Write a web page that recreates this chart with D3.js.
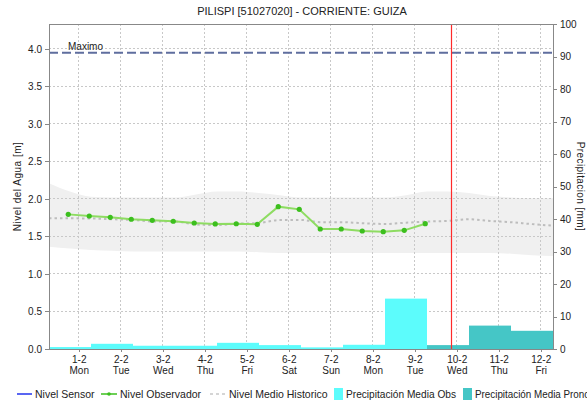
<!DOCTYPE html>
<html>
<head>
<meta charset="utf-8">
<title>PILISPI - GUIZA</title>
<script src="https://cdn.jsdelivr.net/npm/d3@7"></script>
<style>
  body { margin: 0; background: #fff; }
  svg { font-family: "Liberation Sans", Arial, sans-serif; }
  .axis path, .axis line { stroke: #888; shape-rendering: crispEdges; }
  .axis text { font-size: 10px; fill: #222; }
  .grid line { stroke: #c8c8c8; stroke-dasharray: 2,2; shape-rendering: crispEdges; }
  .legend text { font-size: 10.5px; fill: #222; }
</style>
</head>
<body>
<script>
// datos
var titulo = "PILISPI [51027020] - CORRIENTE: GUIZA";
var dias = ["2021-02-01","2021-02-02","2021-02-03","2021-02-04","2021-02-05","2021-02-06",
            "2021-02-07","2021-02-08","2021-02-09","2021-02-10","2021-02-11","2021-02-12"];
var diasSemana = ["Mon","Tue","Wed","Thu","Fri","Sat","Sun","Mon","Tue","Wed","Thu","Fri"];
var precipObs = [0.6, 1.6, 1.0, 1.0, 1.9, 1.2, 0.5, 1.3, 15.5, null, null, null];
var precipPro = [null, null, null, null, null, null, null, null, null, 1.2, 7.2, 5.6];
var nivelObservador = [1.795, 1.773, 1.756, 1.73, 1.716, 1.703, 1.68, 1.667, 1.67,
                       1.662, 1.898, 1.862, 1.6, 1.6, 1.573, 1.564, 1.582, 1.671];
var nivelSensor = [];
var histMedio = [1.742, 1.742, 1.74, 1.73, 1.72, 1.70, 1.70, 1.66, 1.653, 1.67, 1.68, 1.72, 1.72,
                 1.69, 1.69, 1.676, 1.667, 1.684, 1.70, 1.707, 1.73, 1.707, 1.69, 1.665, 1.644];
var histMax = [2.21, 2.10, 2.03, 2.02, 2.02, 2.02, 2.02, 2.06, 2.10, 2.10, 2.08, 2.05, 2.02,
               2.02, 2.02, 2.02, 2.02, 2.05, 2.10, 2.10, 2.08, 2.04, 2.02, 2.01, 2.01];
var histMin = [1.364, 1.34, 1.32, 1.31, 1.30, 1.30, 1.30, 1.30, 1.30, 1.30, 1.29, 1.28, 1.28,
               1.28, 1.28, 1.28, 1.28, 1.28, 1.28, 1.28, 1.28, 1.28, 1.27, 1.25, 1.24];
var nivelMaximo = 3.95;
var ahora = "2021-02-09 21:00";
var inicio = "2021-01-31 07:00", fin = "2021-02-12 07:00";
var primeraObs = "2021-01-31 18:00";

var width = 587, height = 402;
var padding = {left: 49, right: 34, top: 24, bottom: 53};
var w = width - padding.left - padding.right;
var h = height - padding.top - padding.bottom;

var parseDia = d3.timeParse("%Y-%m-%d");
var parseHora = d3.timeParse("%Y-%m-%d %H:%M");

var x = d3.scaleTime().domain([parseHora(inicio), parseHora(fin)]).range([0, w]);
var y = d3.scaleLinear().domain([0, 4.3333]).range([h, 0]);
var y2 = d3.scaleLinear().domain([0, 100]).range([h, 0]);

// tiempos cada 12 horas
var tObs = nivelObservador.map(function(d, i){ return d3.timeHour.offset(parseHora(primeraObs), 12 * i); });
var tHist = histMedio.map(function(d, i){ return d3.timeHour.offset(parseHora(inicio), 12 * i); });
var tDias = dias.map(parseDia);

var svg = d3.select("body").append("svg").attr("width", width).attr("height", height);

svg.append("text").attr("x", 302).attr("y", 15).attr("text-anchor", "middle")
  .style("font-size", "11px").attr("fill", "#222").text(titulo);

var g = svg.append("g").attr("transform", "translate(" + padding.left + "," + padding.top + ")");

g.append("clipPath").attr("id", "clip").append("rect").attr("width", w).attr("height", h);

// banda historica
var banda = d3.area()
  .x(function(d, i){ return x(tHist[i]); })
  .y0(function(d, i){ return y(histMin[i]); })
  .y1(function(d, i){ return y(histMax[i]); })
  .curve(d3.curveMonotoneX);
g.append("path").datum(histMedio).attr("d", banda).attr("fill", "#f0f0f0");

// rejilla
g.append("g").attr("class", "grid")
  .selectAll("line").data(y.ticks(9).filter(function(d){ return d > 0; })).enter().append("line")
  .attr("x1", 0).attr("x2", w).attr("y1", function(d){ return y(d); }).attr("y2", function(d){ return y(d); });
g.append("g").attr("class", "grid")
  .selectAll("line").data(tDias).enter().append("line")
  .attr("x1", function(d){ return x(d); }).attr("x2", function(d){ return x(d); })
  .attr("y1", 0).attr("y2", h);

// barras de precipitacion
function barras(valores, color) {
  g.append("g").attr("clip-path", "url(#clip)")
    .selectAll("rect").data(valores.map(function(v, i){ return {v: v, t: tDias[i]}; })
      .filter(function(d){ return d.v != null; }))
    .enter().append("rect")
    .attr("x", function(d){ return x(d3.timeHour.offset(d.t, -17)); })
    .attr("width", function(d){ return x(d3.timeHour.offset(d.t, 7)) - x(d3.timeHour.offset(d.t, -17)); })
    .attr("y", function(d){ return y2(d.v); })
    .attr("height", function(d){ return h - y2(d.v); })
    .attr("fill", color);
}
barras(precipObs, "#5cfcfc");
barras(precipPro, "#45c6c6");

// medio historico
var lineaHist = d3.line()
  .x(function(d, i){ return x(tHist[i]); })
  .y(function(d){ return y(d); })
  .curve(d3.curveMonotoneX);
g.append("path").datum(histMedio).attr("d", lineaHist)
  .attr("fill", "none").attr("stroke", "#bdbdbd").attr("stroke-width", 2).attr("stroke-dasharray", "2.5,3");

// nivel observador
var lineaObs = d3.line()
  .x(function(d, i){ return x(tObs[i]); })
  .y(function(d){ return y(d); });
g.append("path").datum(nivelObservador).attr("d", lineaObs)
  .attr("fill", "none").attr("stroke", "#8edc62").attr("stroke-width", 2);
g.selectAll(".pto").data(nivelObservador).enter().append("circle").attr("class", "pto")
  .attr("cx", function(d, i){ return x(tObs[i]); })
  .attr("cy", function(d){ return y(d); })
  .attr("r", 2.6).attr("fill", "#3cbf1e");

// nivel maximo
g.append("line").attr("x1", 0).attr("x2", w)
  .attr("y1", y(nivelMaximo)).attr("y2", y(nivelMaximo))
  .attr("stroke", "#5f6e9e").attr("stroke-width", 2).attr("stroke-dasharray", "9,4");
g.append("text").attr("x", 19).attr("y", y(nivelMaximo) - 3)
  .style("font-size", "10px").attr("fill", "#222").text("Maximo");

// ahora
g.append("line").attr("x1", x(parseHora(ahora))).attr("x2", x(parseHora(ahora)))
  .attr("y1", 0).attr("y2", h).attr("stroke", "#ff2a2a").attr("stroke-width", 1.2);

// ejes
g.append("g").attr("class", "axis")
  .call(d3.axisLeft(y).tickValues(d3.range(0, 4.01, 0.5)).tickFormat(d3.format(".1f")).tickSize(4).tickSizeOuter(0));
g.append("g").attr("class", "axis").attr("transform", "translate(" + w + ",0)")
  .call(d3.axisRight(y2).tickValues(d3.range(0, 101, 10)).tickSize(4).tickSizeOuter(0));
g.append("line").attr("x1", 0).attr("x2", w).attr("y1", 0.5).attr("y2", 0.5).attr("stroke", "#888");

var xAxis = g.append("g").attr("class", "axis").attr("transform", "translate(0," + h + ")")
  .call(d3.axisBottom(x).tickValues(tDias).tickSize(3).tickSizeOuter(0).tickFormat(""));
xAxis.select(".domain").attr("stroke", "#444");
xAxis.selectAll(".tick").each(function(d, i){
  var t = d3.select(this).append("text").attr("fill", "#222").attr("text-anchor", "middle").style("font-size", "10px");
  t.append("tspan").attr("x", 0).attr("y", 14).text(d3.timeFormat("%-d-%-m")(d));
  t.append("tspan").attr("x", 0).attr("y", 25).text(diasSemana[i]);
});

// titulos de ejes
svg.append("text").attr("transform", "translate(21," + (padding.top + h / 2) + ") rotate(-90)")
  .attr("text-anchor", "middle").style("font-size", "10px").style("letter-spacing", "0.5px")
  .attr("fill", "#222").text("Nivel del Agua [m]");
svg.append("text").attr("transform", "translate(577," + (padding.top + h / 2) + ") rotate(90)")
  .attr("text-anchor", "middle").style("font-size", "10px").style("letter-spacing", "0.4px")
  .attr("fill", "#222").text("Precipitacion [mm]");

// leyenda
var ley = svg.append("g").attr("class", "legend");
ley.append("line").attr("x1", 17).attr("x2", 32).attr("y1", 394).attr("y2", 394).attr("stroke", "#2233ee").attr("stroke-width", 1.5);
ley.append("text").attr("x", 35).attr("y", 398).text("Nivel Sensor");
ley.append("line").attr("x1", 101).attr("x2", 117).attr("y1", 394).attr("y2", 394).attr("stroke", "#3cbf1e").attr("stroke-width", 1.5);
ley.append("circle").attr("cx", 109).attr("cy", 394).attr("r", 1.8).attr("fill", "#3cbf1e");
ley.append("text").attr("x", 120).attr("y", 398).text("Nivel Observador");
ley.append("line").attr("x1", 210).attr("x2", 226).attr("y1", 394).attr("y2", 394).attr("stroke", "#c8c8c8").attr("stroke-width", 1.5).attr("stroke-dasharray", "3,3");
ley.append("text").attr("x", 229).attr("y", 398).text("Nivel Medio Historico");
ley.append("rect").attr("x", 334).attr("y", 388).attr("width", 9).attr("height", 12).attr("fill", "#5cfcfc");
ley.append("text").attr("x", 346).attr("y", 398).attr("textLength", 110).attr("lengthAdjust", "spacingAndGlyphs").text("Precipitación Media Obs");
ley.append("rect").attr("x", 463).attr("y", 388).attr("width", 9).attr("height", 12).attr("fill", "#45c6c6");
ley.append("text").attr("x", 475).attr("y", 398).attr("textLength", 135).attr("lengthAdjust", "spacingAndGlyphs").text("Precipitación Media Pronostico");
</script>
</body>
</html>
